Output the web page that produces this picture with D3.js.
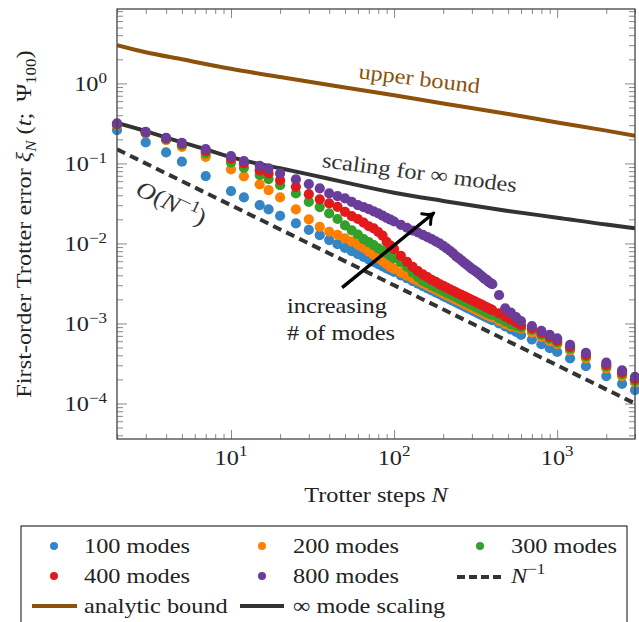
<!DOCTYPE html>
<html><head><meta charset="utf-8">
<script src="https://cdn.jsdelivr.net/npm/d3@7"></script>
<style>body{margin:0;background:#fff}svg{display:block}</style>
</head><body>
<svg id="chart" width="639" height="622"></svg>
<script>
// ---------------- data ----------------
const steps = [2,3,4,5,7,10,12,15,17,20,25,30,35,
  40,45,50,55,60,65,70,75,80,85,90,95,100,
  110,120,130,140,150,160,170,180,190,200,210,220,230,240,250,260,270,280,290,300,310,320,330,340,350,360,370,380,390,400,
  440,480,520,560,600,
  700,800,900,1000,1200,1500,2000,2500,3000];

const modes100 = [0.261,0.183,0.137,0.105,0.0694,0.045,0.0376,0.0301,0.0266,0.0221,0.0178,0.0148,0.0127,
  0.011,0.00978,0.0088,0.008,0.00733,0.00677,0.00629,0.00587,0.0055,0.00518,0.00489,0.00463,0.0044,
  0.004,0.00367,0.00338,0.00314,0.00293,0.00275,0.00259,0.00244,0.00232,0.0022,0.0021,0.002,0.00191,0.00183,0.00176,0.00169,0.00163,0.00157,0.00152,0.00147,0.00142,0.00138,0.00133,0.00129,0.00126,0.00122,0.00119,0.00116,0.00113,0.0011,
  0.001,0.000917,0.000846,0.000786,0.00072,
  0.00063,0.00055,0.00049,0.00044,0.000367,0.000293,0.00022,0.000176,0.000147];

const modes200 = [0.300,0.238,0.196,0.161,0.121,0.084,0.069,0.0546,0.0464,0.0376,0.0266,0.020,0.0161,
  0.014,0.0128,0.0116,0.0106,0.0097,0.0088,0.0079,0.0072,0.0066,0.006,0.0055,0.0051,0.0048,
  0.00432,0.00396,0.00365,0.0034,0.00317,0.00297,0.0028,0.00264,0.0025,0.00238,0.00226,0.00216,0.00207,0.00198,0.0019,0.00183,0.00176,0.0017,0.00164,0.00158,0.00153,0.00148,0.00144,0.0014,0.00136,0.00132,0.00128,0.00125,0.00122,0.00119,
  0.00108,0.00099,0.00093,0.0009,0.00086,
  0.00077,0.00068,0.0006,0.00055,0.00046,0.000367,0.000275,0.00022,0.000183];

const modes300 = [0.305,0.24,0.2,0.17,0.133,0.103,0.088,0.0714,0.0637,0.0535,0.0422,0.0331,0.0285,
  0.0237,0.0202,0.0168,0.0146,0.0129,0.0113,0.0104,0.0095,0.0087,0.0081,0.0075,0.0070,0.0065,
  0.0058,0.0051,0.0043,0.0038,0.0034,0.00319,0.003,0.00283,0.00268,0.00255,0.00243,0.00232,0.00222,0.00213,0.00204,0.00196,0.00189,0.00182,0.00176,0.0017,0.00165,0.00159,0.00155,0.0015,0.00146,0.00142,0.00138,0.00134,0.00131,0.00128,
  0.00116,0.00106,0.00098,0.00093,0.00089,
  0.00083,0.000725,0.000645,0.00058,0.000485,0.000387,0.00029,0.000232,0.000193];

const modes400 = [0.31,0.245,0.205,0.176,0.143,0.115,0.1,0.0818,0.075,0.0618,0.051,0.0413,0.0355,
  0.0316,0.0287,0.0248,0.022,0.0202,0.0182,0.0164,0.0154,0.0139,0.0125,0.0105,0.0094,0.0085,
  0.007,0.0059,0.0051,0.0045,0.0041,0.0038,0.0035,0.0033,0.0031,0.00295,0.0028,0.00267,0.00256,0.00245,0.00235,0.00226,0.00218,0.0021,0.00203,0.00196,0.0019,0.00184,0.00178,0.00173,0.00168,0.00163,0.00159,0.00155,0.00151,0.00147,
  0.00134,0.00122,0.00112,0.00103,0.00095,
  0.00087,0.00076,0.00068,0.00061,0.00051,0.000405,0.000305,0.000244,0.000203];

const modes800 = [0.316,0.248,0.209,0.181,0.151,0.123,0.107,0.0933,0.0866,0.075,0.063,0.0551,0.0487,
  0.0422,0.039,0.0365,0.0331,0.0301,0.0284,0.0268,0.0252,0.0237,0.0222,0.0209,0.0198,0.0188,
  0.0171,0.0157,0.0145,0.0137,0.0128,0.012,0.0113,0.0106,0.01,0.0093,0.00866,0.0081,0.0075,0.0069,0.0065,0.0061,0.0057,0.0054,0.0051,0.0048,0.0046,0.0044,0.0042,0.004,0.0038,0.0036,0.0035,0.0033,0.0032,0.0031,
  0.00226,0.00154,0.00137,0.0012,0.00107,
  0.00093,0.00081,0.00072,0.00065,0.00054,0.00043,0.000325,0.00026,0.000215];

const boundN = [2,3,5,10,20,50,100,200,500,1000,2000,3000];
const boundVal = [3.0,2.45,2.0,1.52,1.2,0.89,0.71,0.56,0.415,0.325,0.257,0.222];

const infN = [2,3,4,5,7,10,15,20,30,50,100,200,500,1000,2000,3000];
const infVal = [0.32,0.253,0.211,0.183,0.15,0.12,0.098,0.087,0.073,0.058,0.043,0.034,0.0255,0.021,0.0172,0.0155];

const refN = [2,3000];
const refVal = [0.15,0.0001];

const arrowFrom = [48,0.0028];
const arrowTo = [175,0.024];

const xMajor = [10,100,1000];
const xMajorExp = ["1","2","3"];
const yMajor = [1,0.1,0.01,0.001,0.0001];
const yMajorExp = ["0","\u22121","\u22122","\u22123","\u22124"];

const seriesNames = ["100 modes","200 modes","300 modes","400 modes","800 modes"];
const seriesColors = ["#3585c5","#ff7f00","#33a02c","#e31a1c","#6a3d9a"];
const seriesData = [modes100,modes200,modes300,modes400,modes800];

// ---------------- setup ----------------
const FONT = "Liberation Serif, Times New Roman, serif";
const FS = 21.5;
const SX = 1.13;
const svg = d3.select("#chart");
const L=117,R=635,T=9,B=439;
const x = d3.scaleLog().domain([2,3000]).range([L,R]);
const y = d3.scaleLog().domain([3.6e-5,8.5]).range([B,T]);

function rich(parent, px, py, parts, opt={}) {
  const size = opt.size||FS, anchor=opt.anchor||"start", rot=opt.rotate||0;
  const g = parent.append("g").attr("transform",`translate(${px},${py}) rotate(${rot}) scale(${SX},1)`);
  const t = g.append("text").attr("text-anchor",anchor).style("font-family",FONT)
    .attr("font-size",size).attr("fill",opt.fill||"#222");
  let shift=0;
  parts.forEach(p=>{
    const o = typeof p==="string"?{t:p}:p;
    const target = o.sup? -0.40*size : o.sub? 0.22*size : 0;
    const ts = t.append("tspan").text(o.t);
    if (target!==shift){ ts.attr("dy",target-shift); shift=target; }
    if (o.sup||o.sub) ts.attr("font-size",size*0.7);
    if (o.it) ts.attr("font-style","italic");
  });
  return g;
}

svg.append("defs").append("clipPath").attr("id","clip")
  .append("rect").attr("x",L).attr("y",T).attr("width",R-L).attr("height",B-T);

// ---------------- axes ticks ----------------
const xMinor=[], yMinor=[];
for (let e=0;e<=3;e++) for (let m=2;m<=9;m++){const v=m*Math.pow(10,e); if(v>=2&&v<=3000) xMinor.push(v);}
for (let e=-5;e<=0;e++) for (let m=2;m<=9;m++){const v=m*Math.pow(10,e); if(v>=3.6e-5&&v<=8.5) yMinor.push(v);}

const tickCol="#8a8a8a";
function styleAxis(g){ g.select(".domain").remove(); g.selectAll("line").attr("stroke",tickCol).attr("stroke-width",1); g.selectAll("text").remove(); }
svg.append("g").attr("transform",`translate(0,${B})`).call(d3.axisBottom(x).tickValues(xMinor).tickSize(-5).tickFormat("")).call(styleAxis);
svg.append("g").attr("transform",`translate(0,${B})`).call(d3.axisBottom(x).tickValues(xMajor).tickSize(-9).tickFormat("")).call(styleAxis);
svg.append("g").attr("transform",`translate(0,${T})`).call(d3.axisTop(x).tickValues(xMinor).tickSize(-5).tickFormat("")).call(styleAxis);
svg.append("g").attr("transform",`translate(0,${T})`).call(d3.axisTop(x).tickValues(xMajor).tickSize(-9).tickFormat("")).call(styleAxis);
svg.append("g").attr("transform",`translate(${L},0)`).call(d3.axisLeft(y).tickValues(yMinor).tickSize(-6).tickFormat("")).call(styleAxis);
svg.append("g").attr("transform",`translate(${L},0)`).call(d3.axisLeft(y).tickValues(yMajor).tickSize(-10).tickFormat("")).call(styleAxis);
svg.append("g").attr("transform",`translate(${R},0)`).call(d3.axisRight(y).tickValues(yMinor).tickSize(-6).tickFormat("")).call(styleAxis);
svg.append("g").attr("transform",`translate(${R},0)`).call(d3.axisRight(y).tickValues(yMajor).tickSize(-10).tickFormat("")).call(styleAxis);

xMajor.forEach((v,i)=> rich(svg, x(v), 465, ["10",{t:xMajorExp[i],sup:true}], {anchor:"middle"}));
yMajor.forEach((v,i)=> rich(svg, 107, y(v)+8, ["10",{t:yMajorExp[i],sup:true}], {anchor:"end"}));

rich(svg, (L+R)/2, 502, ["Trotter steps ",{t:"N",it:true}], {anchor:"middle"});
rich(svg, 31, (T+B)/2, ["First-order Trotter error ",{t:"\u03BE",it:true},{t:"N",it:true,sub:true}," (",{t:"t",it:true},"; \u2009\u03A8",{t:"100",sub:true},")"], {anchor:"middle",rotate:-90});

// ---------------- lines ----------------
const plot = svg.append("g").attr("clip-path","url(#clip)");
const line = d3.line().x(d=>x(d[0])).y(d=>y(d[1])).curve(d3.curveMonotoneX);
plot.append("path").datum(boundN.map((n,i)=>[n,boundVal[i]])).attr("d",line)
  .attr("fill","none").attr("stroke","#8c510a").attr("stroke-width",4);
plot.append("path").datum(infN.map((n,i)=>[n,infVal[i]])).attr("d",line)
  .attr("fill","none").attr("stroke","#333333").attr("stroke-width",4);
plot.append("path").datum(refN.map((n,i)=>[n,refVal[i]])).attr("d",line)
  .attr("fill","none").attr("stroke","#333333").attr("stroke-width",4).attr("stroke-dasharray","9,5.5");

// ---------------- markers ----------------
seriesData.forEach((vals,si)=>{
  svg.append("g").selectAll("circle").data(steps.map((n,i)=>[n,vals[i]])).join("circle")
    .attr("cx",d=>x(d[0])).attr("cy",d=>y(d[1])).attr("r",5.1).attr("fill",seriesColors[si]);
});

svg.append("rect").attr("x",L).attr("y",T).attr("width",R-L).attr("height",B-T)
  .attr("fill","none").attr("stroke","#444").attr("stroke-width",1.3);

// ---------------- annotations ----------------
rich(svg, 418.5, 85.8, ["upper bound"], {anchor:"middle",rotate:7,fill:"#8c510a"});
rich(svg, 418.7, 179.7, ["scaling for \u221E modes"], {anchor:"middle",rotate:7.4,fill:"#333"});
rich(svg, 168, 210, [{t:"O",it:true},"(",{t:"N",it:true},{t:"\u22121",sup:true},")"], {anchor:"middle",rotate:25,fill:"#333",size:23.5});
rich(svg, 287, 313, ["increasing"], {fill:"#222"});
rich(svg, 287, 340, ["# of modes"], {fill:"#222"});

const ax0=x(arrowFrom[0]), ay0=y(arrowFrom[1]), ax1=x(arrowTo[0]), ay1=y(arrowTo[1]);
const ang=Math.atan2(ay1-ay0, ax1-ax0);
svg.append("line").attr("x1",ax0).attr("y1",ay0).attr("x2",ax1-1.5*Math.cos(ang)).attr("y2",ay1-1.5*Math.sin(ang))
  .attr("stroke","#000").attr("stroke-width",3.4);
const hl=12, ha=0.62;
const p1=[ax1-hl*Math.cos(ang-ha), ay1-hl*Math.sin(ang-ha)];
const p2=[ax1-hl*Math.cos(ang+ha), ay1-hl*Math.sin(ang+ha)];
svg.append("path").attr("d",`M${p1[0]},${p1[1]} Q${ax1-4*Math.cos(ang)},${ay1-4*Math.sin(ang)} ${ax1},${ay1} Q${ax1-4*Math.cos(ang)},${ay1-4*Math.sin(ang)} ${p2[0]},${p2[1]}`)
  .attr("fill","none").attr("stroke","#000").attr("stroke-width",3).attr("stroke-linecap","round").attr("stroke-linejoin","round");

// ---------------- legend ----------------
const lg = svg.append("g");
lg.append("rect").attr("x",21).attr("y",526).attr("width",606).attr("height",130)
  .attr("fill","#fff").attr("stroke","#333").attr("stroke-width",1.2);
const colX=[54,262,480], textX=[84,293,511], rowY=[546,576,606];
seriesNames.forEach((name,i)=>{
  const c=i%3, r=Math.floor(i/3);
  lg.append("circle").attr("cx",colX[c]).attr("cy",rowY[r]).attr("r",4).attr("fill",seriesColors[i]);
  rich(lg, textX[c], rowY[r]+6.5, [name]);
});
lg.append("line").attr("x1",457).attr("x2",502).attr("y1",rowY[1]+1).attr("y2",rowY[1]+1)
  .attr("stroke","#333").attr("stroke-width",4).attr("stroke-dasharray","8,4");
rich(lg, 511, rowY[1]+6.5, [{t:"N",it:true},{t:"\u22121",sup:true}]);
lg.append("line").attr("x1",32).attr("x2",77).attr("y1",rowY[2]).attr("y2",rowY[2]).attr("stroke","#8c510a").attr("stroke-width",4);
rich(lg, 84, rowY[2]+6.5, ["analytic bound"]);
lg.append("line").attr("x1",240).attr("x2",284).attr("y1",rowY[2]).attr("y2",rowY[2]).attr("stroke","#333").attr("stroke-width",4);
rich(lg, 293, rowY[2]+6.5, ["\u221E mode scaling"]);
</script>
</body></html>
